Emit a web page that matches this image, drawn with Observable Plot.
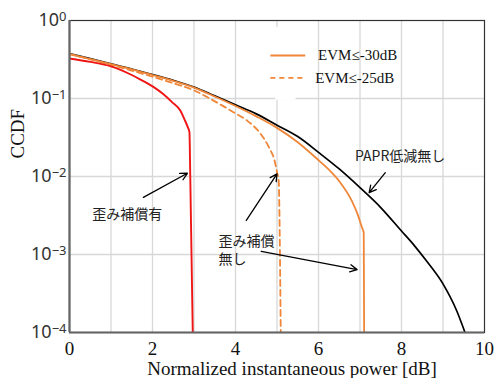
<!DOCTYPE html>
<html><head><meta charset="utf-8">
<script src="https://cdn.jsdelivr.net/npm/d3@7"></script>
<script src="https://cdn.jsdelivr.net/npm/@observablehq/plot@0.6"></script>
<style>body{margin:0;background:#fff}</style>
</head><body><div id="chart"></div>
<script>
const xTicks = [0, 2, 4, 6, 8, 10];
const xGrid = [1, 2, 3, 4, 5, 6, 7, 8, 9];
const yTicks = [1e-4, 1e-3, 1e-2, 1e-1, 1];
const yGrid = [1e-3, 1e-2, 1e-1];

// PAPR低減無し (black)
const noRedX = [0, 0.5, 1, 1.5, 2, 2.5, 3, 3.5, 4, 4.5, 5, 5.5, 6, 6.5, 7, 7.5, 8, 8.3, 8.6, 9.0, 9.33, 9.53];
const noRedY = [0.376, 0.324, 0.278, 0.239, 0.203, 0.171, 0.14, 0.108, 0.083, 0.0635, 0.0455, 0.0325, 0.0204, 0.0125, 0.0072, 0.004, 0.002, 0.00132, 0.00083, 0.00042, 0.00019, 0.0001];

// EVM≤-30dB (orange solid)
const evm30X = [0, 0.5, 1, 1.5, 2, 2.5, 3, 3.5, 4, 4.5, 5, 5.5, 6, 6.3, 6.5, 6.8, 6.95, 7.05, 7.09, 7.1];
const evm30Y = [0.372, 0.32, 0.275, 0.237, 0.2, 0.168, 0.138, 0.106, 0.08, 0.059, 0.042, 0.0275, 0.0162, 0.0115, 0.0087, 0.0049, 0.0032, 0.0022, 0.0019, 0.0001];

// EVM≤-25dB (orange dashed)
const evm25X = [0, 0.5, 1, 1.5, 2, 2.5, 3, 3.47, 3.95, 4.27, 4.6, 4.8, 4.94, 5.01, 5.04, 5.09];
const evm25Y = [0.37, 0.318, 0.27, 0.228, 0.19, 0.157, 0.127, 0.094, 0.0668, 0.0525, 0.0355, 0.024, 0.016, 0.0108, 0.009, 0.0001];

// 歪み補償有 (red)
const compX = [0, 0.5, 1, 1.5, 1.71, 2.03, 2.25, 2.47, 2.67, 2.77, 2.85, 2.89, 2.91, 2.97];
const compY = [0.326, 0.295, 0.258, 0.2, 0.175, 0.14, 0.115, 0.09, 0.07, 0.054, 0.043, 0.037, 0.01, 0.0001];

// annotations
const noteTexts = ["歪み補償有", "歪み補償\n無し", "PAPR低減無し"];
const noteX = [0.55, 3.59, 6.88];
const noteY = [0.0034, 0.00116, 0.0186];

const arrowX1 = [1.78, 4.26, 4.62, 7.61];
const arrowY1 = [0.0054, 0.00273, 0.0011, 0.0112];
const arrowX2 = [2.84, 5.0, 6.93, 7.22];
const arrowY2 = [0.011, 0.0108, 0.00064, 0.0062];

// legend
const legendLabels = ["EVM≤-30dB", "EVM≤-25dB"];
const legendY = [0.356, 0.184];
const legendTextX = [5.99, 5.92];

const rows = (xs, ys) => xs.map((x, i) => ({x, y: ys[i]}));
const orange = "#ef8638";
const red = "#f01515";
const serif = "Liberation Serif, Times New Roman, serif";
const sans = "Noto Sans, DejaVu Sans, sans-serif";
const jp = "Noto Sans CJK JP, sans-serif";

const notes = noteTexts.map((t, i) => ({t, x: noteX[i], y: noteY[i]}));
const arrows = arrowX1.map((x1, i) => ({x1, y1: arrowY1[i], x2: arrowX2[i], y2: arrowY2[i]}));
const legend = legendLabels.map((t, i) => ({t, y: legendY[i], tx: legendTextX[i]}));

const svg = Plot.plot({
  width: 496, height: 378,
  marginLeft: 69, marginRight: 12, marginTop: 20, marginBottom: 46,
  style: {background: "#fff"},
  x: {domain: [0, 10]},
  y: {type: "log", domain: [1e-4, 1]},
  marks: [
    Plot.gridX(xGrid, {stroke: "#d8d8d8", strokeOpacity: 1, strokeWidth: 1.3}),
    Plot.gridY(yGrid, {stroke: "#d8d8d8", strokeOpacity: 1, strokeWidth: 1.3}),
    Plot.rect([0], {x1: 4.97, x2: 5.46, y1: 0.813, y2: 0.095, fill: "#fff"}),
    Plot.line(rows(noRedX, noRedY), {x: "x", y: "y", stroke: "#000", strokeWidth: 1.7, curve: "monotone-x", clip: true}),
    Plot.line(rows(evm30X, evm30Y), {x: "x", y: "y", stroke: orange, strokeWidth: 1.8, curve: "monotone-x", clip: true}),
    Plot.line(rows(evm25X, evm25Y), {x: "x", y: "y", stroke: orange, strokeWidth: 1.8, strokeDasharray: "6,4", curve: "monotone-x", clip: true}),
    Plot.line(rows(compX, compY), {x: "x", y: "y", stroke: red, strokeWidth: 1.9, curve: "monotone-x", clip: true}),
    Plot.arrow(arrows, {x1: "x1", y1: "y1", x2: "x2", y2: "y2", stroke: "#000", strokeWidth: 1.3, headLength: 9, headAngle: 55}),
    Plot.text(notes, {x: "x", y: "y", text: "t", textAnchor: "start", fontFamily: jp, fontSize: 14, fill: "#222", lineHeight: 1.3}),
    // legend
    Plot.link([legend[0]], {x1: 4.84, x2: 5.68, y1: "y", y2: "y", stroke: orange, strokeWidth: 1.8}),
    Plot.link([legend[1]], {x1: 4.84, x2: 5.68, y1: "y", y2: "y", stroke: orange, strokeWidth: 1.8, strokeDasharray: "5,4"}),
    Plot.text(legend, {x: "tx", y: "y", text: "t", textAnchor: "start", fontFamily: serif, fontSize: 15, fill: "#111"}),
    // frame & axes
    Plot.frame({stroke: "#333", strokeWidth: 1.2}),
    Plot.ruleX([0], {stroke: "#666", strokeWidth: 2.2}),
    Plot.ruleY([1e-4], {stroke: "#666", strokeWidth: 2.2}),
    Plot.axisX(xTicks, {tickSize: 0, tickPadding: 9, fontFamily: serif, fontSize: 19, fill: "#111", label: null}),
    Plot.axisY(yTicks, {tickSize: 0, tickPadding: 3, fontFamily: sans, fontSize: 18, fill: "#333", label: null,
      tickFormat: d => "10^" + Math.round(Math.log10(d))}),
    Plot.text(["Normalized instantaneous power [dB]"], {frameAnchor: "bottom", lineAnchor: "middle", dx: 15, dy: 36, fontFamily: serif, fontSize: 19, fill: "#111"}),
    Plot.text(["CCDF"], {frameAnchor: "left", lineAnchor: "middle", dx: -52, dy: -18, rotate: -90, fontFamily: serif, fontSize: 19, fill: "#111"})
  ]
});

d3.select(svg).selectAll('g[aria-label="y-axis tick label"] text').each(function() {
  const parts = this.textContent.split("^");
  if (parts.length < 2) return;
  const el = d3.select(this);
  el.text(parts[0]);
  el.append("tspan").attr("dy", "-0.42em").attr("font-size", "13px").text(parts[1].replace("-", "\u2212"));
});

document.getElementById("chart").appendChild(svg);
</script>
</body></html>
